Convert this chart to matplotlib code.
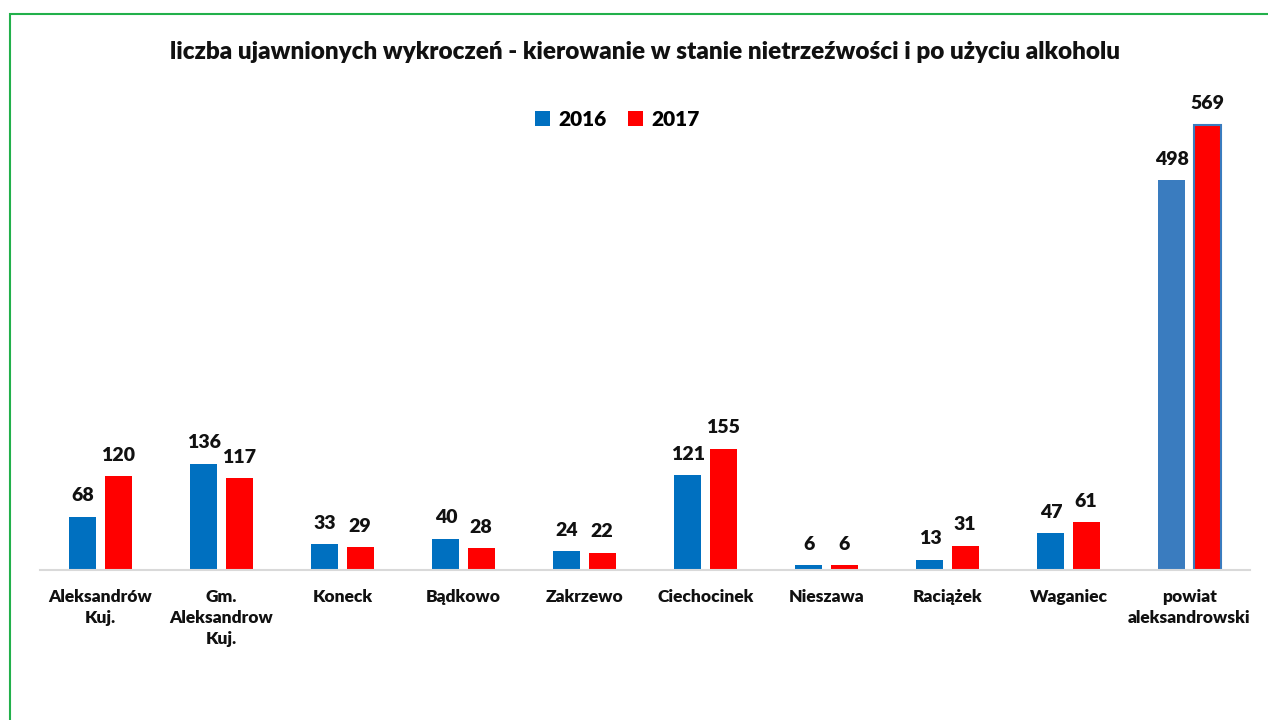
import numpy as np
import matplotlib.pyplot as plt
from matplotlib.patches import Rectangle

# data
categories = ["Aleksandrów\nKuj.", "Gm.\nAleksandrow\nKuj.", "Koneck", "Bądkowo", "Zakrzewo",
              "Ciechocinek", "Nieszawa", "Raciążek", "Waganiec", "powiat\naleksandrowski"]
values_2016 = [68, 136, 33, 40, 24, 121, 6, 13, 47, 498]
values_2017 = [120, 117, 29, 28, 22, 155, 6, 31, 61, 569]
years = ["2016", "2017"]

plt.rcParams['font.family'] = ['Lato', 'DejaVu Sans']
wt = 'heavy'

fig = plt.figure(figsize=(12.68, 7.2), dpi=100)
ax = fig.add_axes([40 / 1268, 1 - 570 / 720, 1210 / 1268, 490 / 720])

x = np.arange(len(categories))
w = 0.223
off = 0.145
blue = '#0070c0'
red = '#ff0000'

b1 = ax.bar(x - off, values_2016, w, color=blue, label=years[0], zorder=2)
b2 = ax.bar(x + off, values_2017, w, color=red, label=years[1], zorder=2)

# last group looks different in the original (shaded fill)
b1[-1].set_facecolor('#3a7cbf')
b2[-1].set_edgecolor('#3a7cbf')
b2[-1].set_linewidth(1.5)

for bars, vals in [(b1, values_2016), (b2, values_2017)]:
    for rect, v in zip(bars, vals):
        ax.annotate(str(v), (rect.get_x() + rect.get_width() / 2, v),
                    xytext=(0, 9), textcoords='offset points',
                    ha='center', va='bottom', fontsize=14, fontweight=wt, color='#111111')

ax.set_xlim(-0.5, 9.5)
ax.set_ylim(0, 626)
ax.set_xticks(x)
ax.set_xticklabels(categories, fontsize=12.5, fontweight=wt, color='#111111', linespacing=1.35)
ax.tick_params(axis='x', length=0, pad=14)
ax.set_yticks([])
for s in ['top', 'right', 'left']:
    ax.spines[s].set_visible(False)
ax.spines['bottom'].set_color('#d9d9d9')
ax.spines['bottom'].set_linewidth(1.5)

fig.text(0.509, 0.928, "liczba ujawnionych wykroczeń - kierowanie w stanie nietrzeźwości i po użyciu alkoholu",
         ha='center', va='center', fontsize=17.5, fontweight=wt, color='#111111')

fig.legend(loc='center', bbox_to_anchor=(0.487, 0.834), ncol=2, frameon=False,
           prop={'size': 15, 'weight': wt}, handlelength=0.75, handleheight=0.75,
           handletextpad=0.4, columnspacing=1.0)

fig.patches.append(Rectangle((10 / 1268, -0.1), 1.2, 1.1 - 14 / 720,
                             transform=fig.transFigure, fill=False,
                             edgecolor='#22b04b', linewidth=1.5))

fig.savefig("out.png", dpi=100)
